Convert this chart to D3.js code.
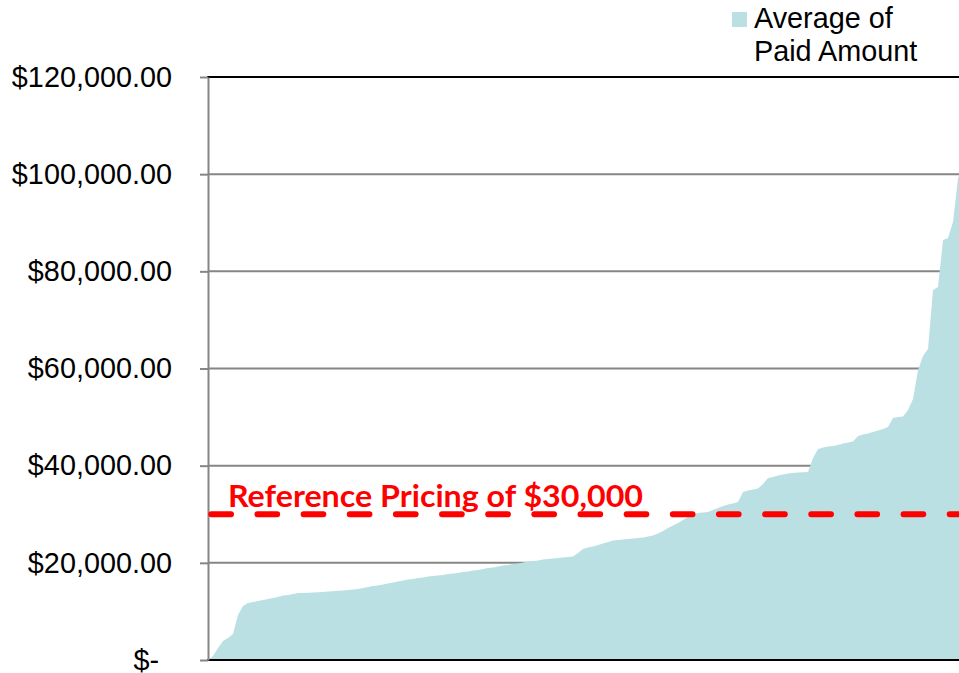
<!DOCTYPE html>
<html>
<head>
<meta charset="utf-8">
<script src="https://cdn.jsdelivr.net/npm/d3@7"></script>
<style>
  body { margin: 0; background: #fff; }
  svg { display: block; font-family: Arial, "Liberation Sans", sans-serif; }
</style>
</head>
<body>
<svg width="959" height="673"></svg>
<script>
// average paid amount per item, sorted ascending
const paidAmounts = [
  0, 820, 2470, 3910, 4530, 5350, 9260, 11100, 11730, 11940,
  12140, 12350, 12560, 12760, 12970, 13280, 13380, 13590, 13790, 13790,
  13830, 13870, 13940, 14000, 14080, 14160, 14240, 14330, 14410, 14510,
  14610, 14820, 15030, 15230, 15330, 15540, 15750, 15950, 16160, 16360,
  16570, 16670, 16880, 16980, 17190, 17290, 17390, 17500, 17700, 17810,
  17910, 18110, 18220, 18420, 18530, 18730, 18940, 19040, 19250, 19450,
  19550, 19760, 19860, 20070, 20270, 20380, 20480, 20690, 20790, 20890,
  21000, 21100, 21200, 21300, 22020, 22850, 23160, 23360, 23670, 23980,
  24290, 24600, 24700, 24800, 24910, 25010, 25110, 25210, 25420, 25630,
  26040, 26550, 27170, 27680, 28200, 28820, 29430, 29950, 30260, 30360,
  30460, 30880, 31290, 31700, 32010, 32210, 32520, 34580, 34890, 35090,
  35300, 36230, 37460, 37670, 37980, 38180, 38390, 38490, 38590, 38630,
  38700, 41580, 43430, 43740, 43950, 44050, 44250, 44560, 44770, 44970,
  46110, 46420, 46620, 46930, 47240, 47550, 47960, 49810, 50020, 50120,
  51460, 53720, 59690, 62570, 64010, 76160, 76770, 86450, 86860, 90150,
  99210, 101500
];
const yTicks = [0, 20000, 40000, 60000, 80000, 100000, 120000];
const yTickLabels = ["$-", "$20,000.00", "$40,000.00", "$60,000.00", "$80,000.00", "$100,000.00", "$120,000.00"];
const legendLines = ["Average of", "Paid Amount"];
const referencePrice = 30000;
const referenceLabel = "Reference Pricing of $30,000";

const plotLeft = 208, plotTop = 77, plotBottom = 660, plotRight = 959;
const areaColor = "#bbe0e3";
const gridColor = "#868686";

const svg = d3.select("svg");

const x = d3.scaleLinear().domain([0, 150]).range([plotLeft, 958]);
const y = d3.scaleLinear().domain([0, 120000]).range([plotBottom, plotTop]);

// gridlines
svg.append("g")
  .selectAll("line")
  .data(yTicks.filter(d => d > 0 && d < 120000))
  .join("line")
  .attr("x1", plotLeft).attr("x2", plotRight)
  .attr("y1", d => y(d)).attr("y2", d => y(d))
  .attr("stroke", gridColor).attr("stroke-width", 2);

// area
const area = d3.area()
  .x((d, i) => x(i))
  .y0(y(0))
  .y1(d => y(d));
svg.append("path")
  .datum(paidAmounts)
  .attr("d", area)
  .attr("fill", areaColor);

// top and bottom borders
svg.append("line")
  .attr("x1", plotLeft - 1).attr("x2", plotRight)
  .attr("y1", y(120000)).attr("y2", y(120000))
  .attr("stroke", "#000").attr("stroke-width", 2);
svg.append("line")
  .attr("x1", plotLeft - 1).attr("x2", plotRight)
  .attr("y1", y(0)).attr("y2", y(0))
  .attr("stroke", "#000").attr("stroke-width", 2);

// y axis
const yAxis = svg.append("g")
  .attr("transform", "translate(" + plotLeft + ",0)")
  .call(d3.axisLeft(y)
    .tickValues(yTicks)
    .tickFormat((d, i) => yTickLabels[i])
    .tickSize(8)
    .tickSizeOuter(0)
    .tickPadding(28));
yAxis.select(".domain").attr("stroke", gridColor).attr("stroke-width", 2);
yAxis.selectAll(".tick line").attr("stroke", gridColor).attr("stroke-width", 2);
yAxis.selectAll(".tick text")
  .attr("font-family", "Arial, 'Liberation Sans', sans-serif")
  .attr("font-size", 28.8)
  .attr("fill", "#000")
  .attr("dx", (d, i) => i === 0 ? -13 : 0);

// reference line
svg.append("line")
  .attr("x1", 211.3).attr("x2", plotRight + 10)
  .attr("y1", y(referencePrice)).attr("y2", y(referencePrice))
  .attr("stroke", "#ff0000")
  .attr("stroke-width", 6)
  .attr("stroke-linecap", "round")
  .attr("stroke-dasharray", "19.7,26.45");

svg.append("text")
  .attr("x", 228)
  .attr("y", 507)
  .attr("font-family", "Lato, 'Open Sans', sans-serif")
  .attr("font-weight", 700)
  .attr("font-size", 30)
  .attr("fill", "#ff0000")
  .attr("textLength", 415)
  .attr("lengthAdjust", "spacingAndGlyphs")
  .text(referenceLabel);

// legend
svg.append("rect")
  .attr("x", 732).attr("y", 12)
  .attr("width", 15).attr("height", 15)
  .attr("fill", areaColor);
svg.append("g")
  .selectAll("text")
  .data(legendLines)
  .join("text")
  .attr("x", 754)
  .attr("y", (d, i) => 28 + i * 33)
  .attr("font-size", 28.8)
  .attr("fill", "#000")
  .text(d => d);
</script>
</body>
</html>
